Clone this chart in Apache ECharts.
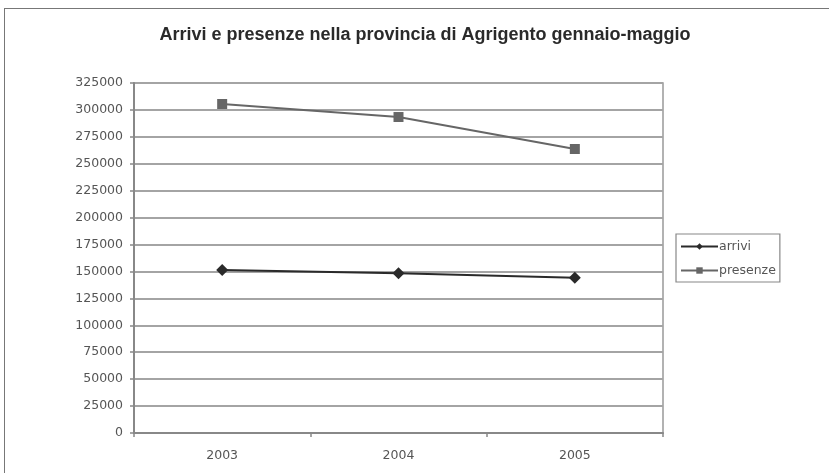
<!DOCTYPE html>
<html>
<head>
<meta charset="utf-8">
<script src="https://cdn.jsdelivr.net/npm/echarts@6/dist/echarts.min.js"></script>
<style>
  html, body { margin: 0; padding: 0; background: #fff; }
  #frame { position: absolute; left: 4px; top: 8px; width: 840px; height: 480px; border: 1px solid #777; box-sizing: border-box; }
  #chart { position: absolute; left: 0; top: 0; width: 829px; height: 473px; }
</style>
</head>
<body>
<div id="frame"></div>
<div id="chart"></div>
<script>
// Anni considerati
const years = ['2003', '2004', '2005'];
// Arrivi turistici gennaio-maggio
const arrivi = [151400, 148300, 144200];
// Presenze turistiche gennaio-maggio
const presenze = [305500, 293400, 263700];
// Scala dell'asse verticale
const yMin = 0;
const yMax = 325000;
const yStep = 25000;

const chart = echarts.init(document.getElementById('chart'), null, { renderer: 'canvas' });

const titleFont = '"Liberation Sans", Arial, sans-serif';
const labelFont = '"DejaVu Sans", Verdana, sans-serif';

chart.setOption({
  animation: false,
  backgroundColor: 'transparent',
  title: {
    text: 'Arrivi e presenze nella provincia di Agrigento gennaio-maggio',
    left: 420,
    textAlign: 'center',
    top: 21,
    textStyle: { fontFamily: titleFont, fontSize: 18, fontWeight: 'bold', color: '#2a2a2a' }
  },
  grid: { left: 134, right: 166, top: 83, bottom: 40, show: true, borderColor: '#999', borderWidth: 1.5 },
  legend: {
    orient: 'vertical',
    left: 676,
    top: 234,
    padding: [6, 4, 5, 4],
    itemGap: 11,
    itemWidth: 37,
    itemHeight: 8,
    borderColor: '#888',
    borderWidth: 1.2,
    textStyle: { fontFamily: labelFont, fontSize: 12.5, color: '#555', padding: [0, 0, 0, -4] },
    data: ['arrivi', 'presenze']
  },
  xAxis: {
    type: 'category',
    data: years,
    boundaryGap: true,
    axisLine: { lineStyle: { color: '#888', width: 2 } },
    axisTick: { show: true, length: 4, lineStyle: { color: '#888', width: 1.5 } },
    axisLabel: { fontFamily: labelFont, fontSize: 12.5, color: '#555', margin: 16 },
    splitLine: { show: false }
  },
  yAxis: {
    type: 'value',
    min: yMin,
    max: yMax,
    interval: yStep,
    axisLine: { show: true, lineStyle: { color: '#888', width: 2 } },
    axisTick: { show: true, length: 4, inside: false, lineStyle: { color: '#888', width: 1.5 } },
    axisLabel: { fontFamily: labelFont, fontSize: 12.5, color: '#555', margin: 11, formatter: v => String(v) },
    splitLine: { show: true, lineStyle: { color: '#a4a4a4', width: 2 } }
  },
  series: [
    {
      name: 'arrivi',
      type: 'line',
      data: arrivi,
      symbol: 'diamond',
      symbolSize: 12,
      color: '#2a2a2a',
      lineStyle: { color: '#2a2a2a', width: 2 },
      itemStyle: { color: '#2a2a2a' },
      z: 3
    },
    {
      name: 'presenze',
      type: 'line',
      data: presenze,
      symbol: 'rect',
      symbolSize: 10,
      color: '#666',
      lineStyle: { color: '#666', width: 2 },
      itemStyle: { color: '#666' },
      z: 3
    }
  ]
});
</script>
</body>
</html>
